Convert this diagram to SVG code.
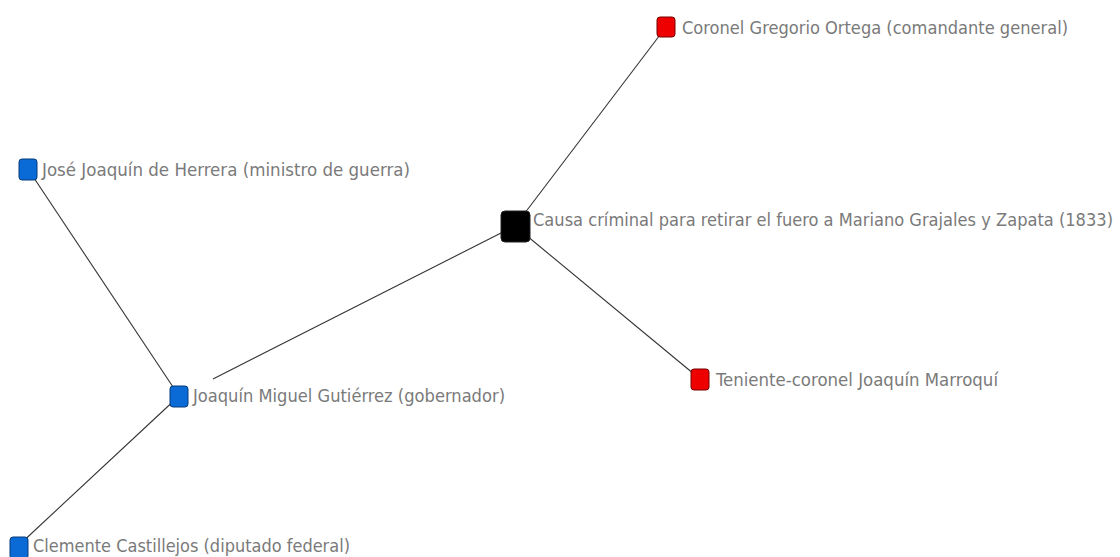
<svg xmlns="http://www.w3.org/2000/svg" width="1120" height="557" viewBox="0 0 1120 557">
<style>
.lbl{font-family:"DejaVu Sans Condensed","DejaVu Sans","Liberation Sans Narrow",sans-serif;font-size:18px;fill:#7a7a7a}
.red{fill:#ee0000;stroke:#7a0000;stroke-width:1}
.blue{fill:#0a6ad6;stroke:#073c7a;stroke-width:1}
.blk{fill:#000;stroke:#222;stroke-width:1}
.edge{stroke:#333;stroke-width:1.1;fill:none}
</style>
<rect width="1120" height="557" fill="#fff"/>
<g id="connectors">
<line class="edge" x1="515" y1="226" x2="666" y2="27"/>
<line class="edge" x1="503" y1="232" x2="213" y2="379"/>
<line class="edge" x1="515" y1="226" x2="700" y2="379"/>
<line class="edge" x1="28" y1="169" x2="179" y2="396"/>
<line class="edge" x1="179" y1="396" x2="18" y2="546"/>
</g>
<g id="causa">
<rect class="blk" x="501" y="211" width="29" height="31" rx="4"/>
<text class="lbl" x="533" y="226" textLength="580" lengthAdjust="spacingAndGlyphs">Causa críminal para retirar el fuero a Mariano Grajales y Zapata (1833)</text>
</g>
<g id="ortega">
<rect class="red" x="657" y="17" width="18" height="20" rx="3"/>
<text class="lbl" x="682" y="34" textLength="386" lengthAdjust="spacingAndGlyphs">Coronel Gregorio Ortega (comandante general)</text>
</g>
<g id="herrera">
<rect class="blue" x="19" y="159" width="18" height="21" rx="3"/>
<text class="lbl" x="42" y="176" textLength="368" lengthAdjust="spacingAndGlyphs">José Joaquín de Herrera (ministro de guerra)</text>
</g>
<g id="gutierrez">
<rect class="blue" x="170" y="386" width="18" height="21" rx="3"/>
<text class="lbl" x="193" y="402" textLength="312" lengthAdjust="spacingAndGlyphs">Joaquín Miguel Gutiérrez (gobernador)</text>
</g>
<g id="marroqui">
<rect class="red" x="691" y="369" width="18" height="21" rx="3"/>
<text class="lbl" x="716" y="386" textLength="282" lengthAdjust="spacingAndGlyphs">Teniente-coronel Joaquín Marroquí</text>
</g>
<g id="castillejos">
<rect class="blue" x="10" y="537" width="18" height="22" rx="3"/>
<text class="lbl" x="33" y="552" textLength="317" lengthAdjust="spacingAndGlyphs">Clemente Castillejos (diputado federal)</text>
</g>
</svg>
